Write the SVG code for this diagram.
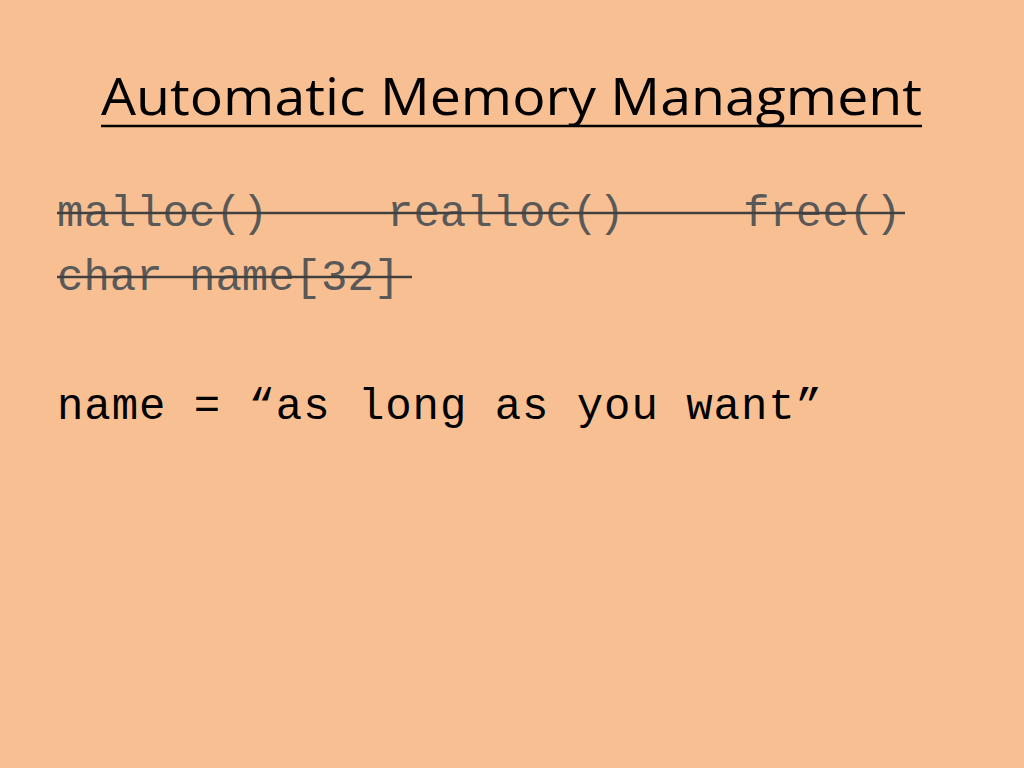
<svg xmlns="http://www.w3.org/2000/svg" width="1024" height="768" viewBox="0 0 1024 768">
<style>
.code{font-family:"Liberation Mono","Courier New",monospace;font-size:44px}
.gray{fill:#595959}
.strike{stroke:#404040;stroke-width:2.5}
</style>
<rect width="1024" height="768" fill="#F8C092"/>
<text x="101" y="115" textLength="821" lengthAdjust="spacingAndGlyphs" font-family="Open Sans, Liberation Sans, sans-serif" font-size="52" fill="#000">Automatic Memory Managment</text>
<line x1="101" y1="126" x2="922" y2="126" stroke="#000" stroke-width="2.5"/>
<text class="code gray" x="57" y="226">malloc()</text>
<text class="code gray" x="387" y="226">realloc()</text>
<text class="code gray" x="743" y="226">free()</text>
<line class="strike" x1="57" y1="213" x2="905" y2="213"/>
<text class="code gray" x="57" y="290">char name[32]</text>
<line class="strike" x1="57" y1="277" x2="412" y2="277"/>
<text class="code" x="57" y="419" fill="#000" textLength="765">name = “as long as you want”</text>
</svg>
